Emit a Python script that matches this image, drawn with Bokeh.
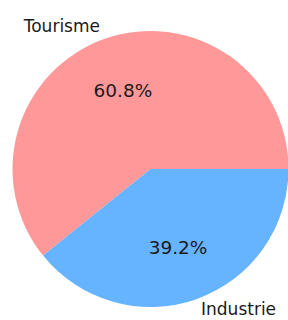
import math
from bokeh.plotting import figure
from bokeh.models import ColumnDataSource
from bokeh.core.properties import value
from bokeh.embed import file_html
from bokeh.resources import INLINE

labels = ["Tourisme", "Industrie"]
shares = [60.8, 39.2]
colors = ["#ff9999", "#66b3ff"]

total = sum(shares)
starts, ends, mids = [], [], []
acc = 0.0
for s in shares:
    a0 = 2 * math.pi * acc / total
    acc += s
    a1 = 2 * math.pi * acc / total
    starts.append(a0)
    ends.append(a1)
    mids.append((a0 + a1) / 2)

pct_text = ["%.1f%%" % (100 * s / total) for s in shares]
lab_x = [1.1 * math.cos(m) for m in mids]
lab_y = [1.1 * math.sin(m) for m in mids]
lab_align = ["right" if x < 0 else "left" for x in lab_x]
lab_yoff = [0 if y > 0 else -3 for y in lab_y]
pct_x = [0.6 * math.cos(m) for m in mids]
pct_y = [0.6 * math.sin(m) for m in mids]

src = ColumnDataSource(dict(start=starts, end=ends, color=colors,
                            lx=lab_x, ly=lab_y, label=labels, align=lab_align,
                            yoff=lab_yoff, px=pct_x, py=pct_y, pct=pct_text))

W, H = 288, 320
scale = 138.0
cx, cy = 150.0, 168.5
p = figure(width=W, height=H, output_backend="svg", toolbar_location=None,
           x_range=(-cx / scale, (W - cx) / scale),
           y_range=(-(H - cy) / scale, cy / scale),
           min_border=0)
p.axis.visible = False
p.grid.visible = False
p.outline_line_color = None
p.background_fill_color = "white"

p.wedge(x=0, y=0, radius=1, start_angle="start", end_angle="end",
        direction="anticlock", fill_color="color", line_color=None, source=src)
p.text(x="lx", y="ly", text="label", text_align="align", text_baseline="middle",
       y_offset="yoff",
       text_font=value("DejaVu Sans"), text_font_size="17px", text_color="#1a1a1a",
       source=src)
p.text(x="px", y="py", text="pct", text_align="center", text_baseline="middle",
       text_font=value("DejaVu Sans"), text_font_size="18.5px", text_color="#1a1a1a",
       source=src)

open("out.html", "w").write(file_html(p, INLINE))
